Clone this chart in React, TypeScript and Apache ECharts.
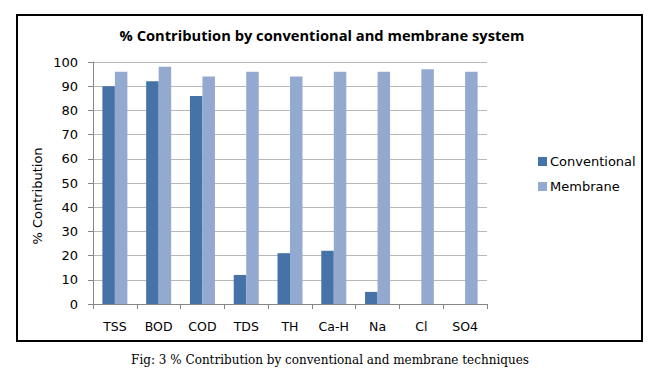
import React, { useEffect, useRef } from "react";
import * as echarts from "echarts";

const categories = ["TSS", "BOD", "COD", "TDS", "TH", "Ca-H", "Na", "Cl", "SO4"];
const conventional = [90, 92, 86, 12, 21, 22, 5, 0, 0];
const membrane = [96, 98, 94, 96, 94, 96, 96, 97, 96];
const yTicks = { min: 0, max: 100, interval: 10 };

const TITLE = "% Contribution by conventional and membrane system";
const CAPTION = "Fig: 3 % Contribution by conventional and membrane techniques";
const Y_NAME = "% Contribution";

export default function App() {
  const ref = useRef<HTMLDivElement>(null);
  useEffect(() => {
    if (!ref.current) return;
    const chart = echarts.init(ref.current, undefined, { renderer: "svg" });
    const sans = "DejaVu Sans";
    chart.setOption({
      animation: false,
      backgroundColor: "#ffffff",
      title: {
        text: TITLE,
        left: 317,
        top: 22,
        textAlign: "center",
        textStyle: { fontFamily: "Open Sans", fontWeight: "bold", fontSize: 14.7, color: "#000" },
      },
      legend: {
        orient: "vertical",
        left: 533,
        top: 150,
        itemWidth: 9,
        itemHeight: 9,
        itemGap: 12,
        icon: "rect",
        textStyle: { fontFamily: sans, fontSize: 13, color: "#000", padding: [0, 0, 0, -2] },
        data: ["Conventional", "Membrane"],
      },
      grid: { left: 93, right: 165, top: 62, bottom: 74, containLabel: false },
      xAxis: {
        type: "category",
        data: categories,
        boundaryGap: true,
        axisLine: { show: true, lineStyle: { color: "#868686", width: 1 } },
        axisTick: { show: true, alignWithLabel: false, length: 5, lineStyle: { color: "#868686" } },
        axisLabel: { fontFamily: sans, fontSize: 12.5, color: "#000", margin: 16 },
        splitLine: { show: false },
      },
      yAxis: {
        type: "value",
        min: yTicks.min,
        max: yTicks.max,
        interval: yTicks.interval,
        axisLine: { show: true, lineStyle: { color: "#868686", width: 1 } },
        axisTick: { show: true, length: 5, lineStyle: { color: "#868686" } },
        axisLabel: { fontFamily: sans, fontSize: 13, color: "#000", margin: 15 },
        splitLine: { show: true, lineStyle: { color: "#b8b8b8", width: 1 } },
      },
      series: [
        {
          name: "Conventional",
          type: "bar",
          data: conventional,
          barWidth: 12.5,
          barGap: "0%",
          itemStyle: { color: "#4572a7" },
        },
        {
          name: "Membrane",
          type: "bar",
          data: membrane,
          barWidth: 12.5,
          barGap: "0%",
          itemStyle: { color: "#93a9cf" },
        },
      ],
      graphic: [
        {
          type: "rect",
          shape: { x: 17, y: 15, width: 625, height: 326 },
          style: { fill: "none", stroke: "#000", lineWidth: 2 },
          z: 10,
        },
        {
          type: "text",
          x: 37,
          y: 196,
          rotation: Math.PI / 2,
          style: {
            text: Y_NAME,
            fontFamily: sans,
            fontSize: 13,
            fill: "#000",
            align: "center",
            verticalAlign: "middle",
          },
        },
        {
          type: "text",
          x: 330,
          y: 360,
          style: {
            text: CAPTION,
            fontFamily: "DejaVu Serif",
            fontSize: 12,
            fill: "#000",
            align: "center",
            verticalAlign: "middle",
          },
        },
      ],
    });
    return () => chart.dispose();
  }, []);
  return (
    <div
      ref={ref}
      style={{ position: "fixed", left: 0, top: 0, width: 652, height: 378 }}
    />
  );
}
